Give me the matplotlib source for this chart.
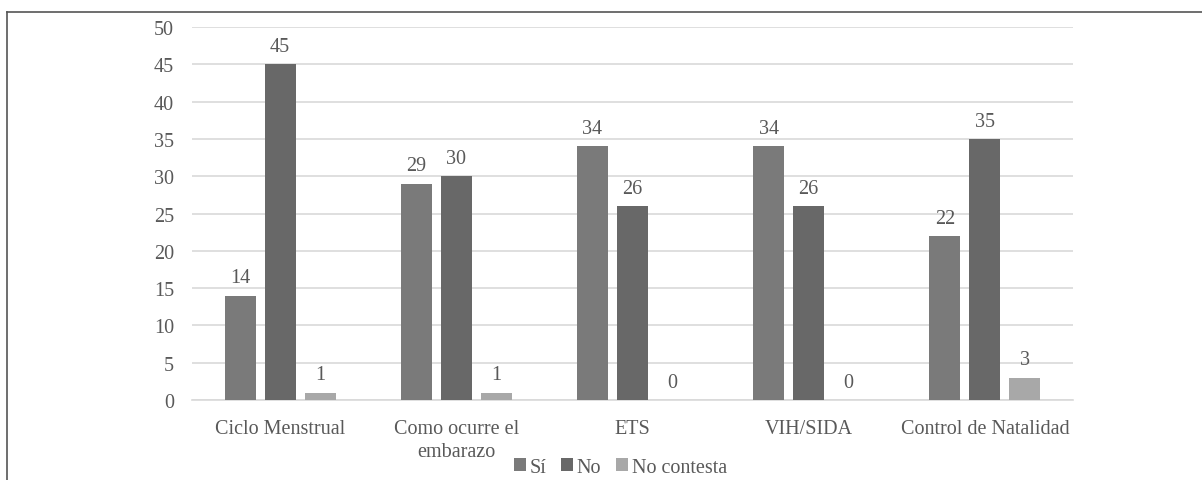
import numpy as np
import matplotlib.pyplot as plt
from matplotlib.lines import Line2D

categorias = ["Ciclo Menstrual", "Como ocurre el\nembarazo", "ETS", "VIH/SIDA", "Control de Natalidad"]
si = [14, 29, 34, 34, 22]
no = [45, 30, 26, 26, 35]
no_contesta = [1, 1, 0, 0, 3]

series = [("Sí", si, "#7a7a7a"), ("No", no, "#686868"), ("No contesta", no_contesta, "#a8a8a8")]

plt.rcParams['font.family'] = ['Liberation Serif', 'DejaVu Serif']
txt = "#595959"
fs = 14.5

fig = plt.figure(figsize=(12.02, 4.81), dpi=100)
ax = fig.add_axes([0.1597, 0.1663, 0.7330, 0.7755])

x = np.arange(len(categorias))
ancho = 0.176
paso = 0.227
for i, (nombre, vals, color) in enumerate(series):
    pos = x + (i - 1) * paso
    barras = ax.bar(pos, vals, ancho, color=color, label=nombre, zorder=3)
    for b, v in zip(barras, vals):
        ax.text(b.get_x() + b.get_width() / 2, v + 1.1, str(v), ha="center", va="bottom",
                fontsize=fs, color=txt)

ax.set_xlim(-0.5, 4.5)
ax.set_ylim(0, 50)
ax.set_yticks(range(0, 51, 5))
ax.set_xticks(x)
ax.set_xticklabels(categorias, fontsize=fs, color=txt, linespacing=1.25)
ax.tick_params(axis="y", labelsize=fs, labelcolor=txt, length=0, pad=13)
ax.tick_params(axis="x", length=0, pad=14)
ax.yaxis.grid(True, color="#d9d9d9", linewidth=1.2, zorder=0)
for s in ["top", "right", "left"]:
    ax.spines[s].set_visible(False)
ax.spines["bottom"].set_color("#d9d9d9")
ax.spines["bottom"].set_linewidth(1.2)

fig.legend(loc="center", bbox_to_anchor=(0.516, 0.027), ncol=3, frameon=False,
           fontsize=fs, labelcolor=txt, handlelength=0.6, handleheight=0.6,
           handletextpad=0.2, columnspacing=0.7, borderpad=0)

# marco superior e izquierdo
fig.add_artist(Line2D([7 / 1202, 1], [1 - 13 / 481, 1 - 13 / 481], color="#555555", linewidth=1.2))
fig.add_artist(Line2D([7 / 1202, 7 / 1202], [0, 1 - 13 / 481], color="#555555", linewidth=1.2))

fig.savefig("out.png", dpi=100, facecolor="white")
